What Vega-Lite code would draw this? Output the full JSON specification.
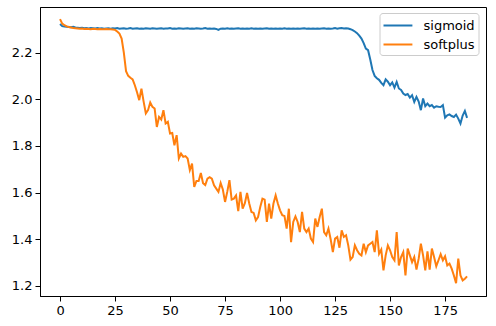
{
  "$schema": "https://vega.github.io/schema/vega-lite/v6.json",
  "width": 446,
  "height": 289,
  "autosize": {"type": "none"},
  "padding": {"left": 40, "top": 7, "right": 10, "bottom": 30},
  "background": "#ffffff",
  "config": {
    "view": {"stroke": "#000000", "strokeWidth": 1},
    "axis": {
      "domainColor": "#000000", "domainWidth": 1, "tickColor": "#000000", "tickWidth": 1, "tickSize": 5,
      "labelColor": "#000000", "labelFont": "DejaVu Sans", "labelFontSize": 13, "grid": false, "title": null
    },
    "legend": {"labelFont": "DejaVu Sans", "labelFontSize": 13, "labelColor": "#000000"}
  },
  "data": {"values": [
    {"epoch":0,"sigmoid":2.322,"softplus":2.343},
    {"epoch":1,"sigmoid":2.313,"softplus":2.324},
    {"epoch":2,"sigmoid":2.311,"softplus":2.317},
    {"epoch":3,"sigmoid":2.310,"softplus":2.312},
    {"epoch":4,"sigmoid":2.309,"softplus":2.309},
    {"epoch":5,"sigmoid":2.308,"softplus":2.307},
    {"epoch":6,"sigmoid":2.310,"softplus":2.305},
    {"epoch":7,"sigmoid":2.307,"softplus":2.304},
    {"epoch":8,"sigmoid":2.306,"softplus":2.303},
    {"epoch":9,"sigmoid":2.305,"softplus":2.302},
    {"epoch":10,"sigmoid":2.306,"softplus":2.303},
    {"epoch":11,"sigmoid":2.304,"softplus":2.301},
    {"epoch":12,"sigmoid":2.305,"softplus":2.302},
    {"epoch":13,"sigmoid":2.303,"softplus":2.301},
    {"epoch":14,"sigmoid":2.305,"softplus":2.300},
    {"epoch":15,"sigmoid":2.304,"softplus":2.302},
    {"epoch":16,"sigmoid":2.303,"softplus":2.301},
    {"epoch":17,"sigmoid":2.305,"softplus":2.300},
    {"epoch":18,"sigmoid":2.303,"softplus":2.301},
    {"epoch":19,"sigmoid":2.304,"softplus":2.300},
    {"epoch":20,"sigmoid":2.302,"softplus":2.300},
    {"epoch":21,"sigmoid":2.303,"softplus":2.301},
    {"epoch":22,"sigmoid":2.304,"softplus":2.300},
    {"epoch":23,"sigmoid":2.302,"softplus":2.300},
    {"epoch":24,"sigmoid":2.304,"softplus":2.299},
    {"epoch":25,"sigmoid":2.303,"softplus":2.297},
    {"epoch":26,"sigmoid":2.305,"softplus":2.290},
    {"epoch":27,"sigmoid":2.302,"softplus":2.281},
    {"epoch":28,"sigmoid":2.303,"softplus":2.260},
    {"epoch":29,"sigmoid":2.304,"softplus":2.200},
    {"epoch":30,"sigmoid":2.302,"softplus":2.120},
    {"epoch":31,"sigmoid":2.303,"softplus":2.100},
    {"epoch":32,"sigmoid":2.305,"softplus":2.092},
    {"epoch":33,"sigmoid":2.302,"softplus":2.085},
    {"epoch":34,"sigmoid":2.303,"softplus":2.060},
    {"epoch":35,"sigmoid":2.304,"softplus":2.030},
    {"epoch":36,"sigmoid":2.302,"softplus":1.996},
    {"epoch":37,"sigmoid":2.303,"softplus":2.045},
    {"epoch":38,"sigmoid":2.302,"softplus":1.990},
    {"epoch":39,"sigmoid":2.304,"softplus":1.939},
    {"epoch":40,"sigmoid":2.303,"softplus":1.953},
    {"epoch":41,"sigmoid":2.302,"softplus":1.986},
    {"epoch":42,"sigmoid":2.304,"softplus":1.967},
    {"epoch":43,"sigmoid":2.303,"softplus":1.960},
    {"epoch":44,"sigmoid":2.302,"softplus":1.881},
    {"epoch":45,"sigmoid":2.303,"softplus":1.924},
    {"epoch":46,"sigmoid":2.304,"softplus":1.913},
    {"epoch":47,"sigmoid":2.302,"softplus":1.953},
    {"epoch":48,"sigmoid":2.303,"softplus":1.896},
    {"epoch":49,"sigmoid":2.303,"softplus":1.903},
    {"epoch":50,"sigmoid":2.305,"softplus":1.853},
    {"epoch":51,"sigmoid":2.302,"softplus":1.855},
    {"epoch":52,"sigmoid":2.303,"softplus":1.803},
    {"epoch":53,"sigmoid":2.302,"softplus":1.846},
    {"epoch":54,"sigmoid":2.304,"softplus":1.746},
    {"epoch":55,"sigmoid":2.303,"softplus":1.767},
    {"epoch":56,"sigmoid":2.302,"softplus":1.753},
    {"epoch":57,"sigmoid":2.303,"softplus":1.756},
    {"epoch":58,"sigmoid":2.304,"softplus":1.746},
    {"epoch":59,"sigmoid":2.302,"softplus":1.696},
    {"epoch":60,"sigmoid":2.303,"softplus":1.724},
    {"epoch":61,"sigmoid":2.302,"softplus":1.624},
    {"epoch":62,"sigmoid":2.304,"softplus":1.650},
    {"epoch":63,"sigmoid":2.303,"softplus":1.650},
    {"epoch":64,"sigmoid":2.302,"softplus":1.684},
    {"epoch":65,"sigmoid":2.303,"softplus":1.640},
    {"epoch":66,"sigmoid":2.305,"softplus":1.632},
    {"epoch":67,"sigmoid":2.302,"softplus":1.660},
    {"epoch":68,"sigmoid":2.303,"softplus":1.666},
    {"epoch":69,"sigmoid":2.302,"softplus":1.660},
    {"epoch":70,"sigmoid":2.303,"softplus":1.631},
    {"epoch":71,"sigmoid":2.301,"softplus":1.617},
    {"epoch":72,"sigmoid":2.297,"softplus":1.603},
    {"epoch":73,"sigmoid":2.302,"softplus":1.641},
    {"epoch":74,"sigmoid":2.303,"softplus":1.613},
    {"epoch":75,"sigmoid":2.302,"softplus":1.560},
    {"epoch":76,"sigmoid":2.304,"softplus":1.603},
    {"epoch":77,"sigmoid":2.302,"softplus":1.653},
    {"epoch":78,"sigmoid":2.303,"softplus":1.570},
    {"epoch":79,"sigmoid":2.302,"softplus":1.574},
    {"epoch":80,"sigmoid":2.303,"softplus":1.588},
    {"epoch":81,"sigmoid":2.304,"softplus":1.521},
    {"epoch":82,"sigmoid":2.302,"softplus":1.603},
    {"epoch":83,"sigmoid":2.303,"softplus":1.531},
    {"epoch":84,"sigmoid":2.302,"softplus":1.555},
    {"epoch":85,"sigmoid":2.303,"softplus":1.598},
    {"epoch":86,"sigmoid":2.302,"softplus":1.553},
    {"epoch":87,"sigmoid":2.304,"softplus":1.517},
    {"epoch":88,"sigmoid":2.302,"softplus":1.513},
    {"epoch":89,"sigmoid":2.303,"softplus":1.481},
    {"epoch":90,"sigmoid":2.302,"softplus":1.495},
    {"epoch":91,"sigmoid":2.303,"softplus":1.538},
    {"epoch":92,"sigmoid":2.302,"softplus":1.574},
    {"epoch":93,"sigmoid":2.303,"softplus":1.570},
    {"epoch":94,"sigmoid":2.304,"softplus":1.474},
    {"epoch":95,"sigmoid":2.302,"softplus":1.553},
    {"epoch":96,"sigmoid":2.303,"softplus":1.489},
    {"epoch":97,"sigmoid":2.302,"softplus":1.553},
    {"epoch":98,"sigmoid":2.303,"softplus":1.588},
    {"epoch":99,"sigmoid":2.302,"softplus":1.553},
    {"epoch":100,"sigmoid":2.303,"softplus":1.524},
    {"epoch":101,"sigmoid":2.302,"softplus":1.503},
    {"epoch":102,"sigmoid":2.304,"softplus":1.500},
    {"epoch":103,"sigmoid":2.302,"softplus":1.446},
    {"epoch":104,"sigmoid":2.303,"softplus":1.531},
    {"epoch":105,"sigmoid":2.302,"softplus":1.388},
    {"epoch":106,"sigmoid":2.303,"softplus":1.474},
    {"epoch":107,"sigmoid":2.302,"softplus":1.498},
    {"epoch":108,"sigmoid":2.303,"softplus":1.474},
    {"epoch":109,"sigmoid":2.302,"softplus":1.431},
    {"epoch":110,"sigmoid":2.303,"softplus":1.517},
    {"epoch":111,"sigmoid":2.304,"softplus":1.446},
    {"epoch":112,"sigmoid":2.302,"softplus":1.431},
    {"epoch":113,"sigmoid":2.303,"softplus":1.446},
    {"epoch":114,"sigmoid":2.302,"softplus":1.403},
    {"epoch":115,"sigmoid":2.303,"softplus":1.388},
    {"epoch":116,"sigmoid":2.302,"softplus":1.489},
    {"epoch":117,"sigmoid":2.303,"softplus":1.453},
    {"epoch":118,"sigmoid":2.302,"softplus":1.495},
    {"epoch":119,"sigmoid":2.303,"softplus":1.531},
    {"epoch":120,"sigmoid":2.304,"softplus":1.431},
    {"epoch":121,"sigmoid":2.302,"softplus":1.417},
    {"epoch":122,"sigmoid":2.303,"softplus":1.446},
    {"epoch":123,"sigmoid":2.302,"softplus":1.400},
    {"epoch":124,"sigmoid":2.303,"softplus":1.345},
    {"epoch":125,"sigmoid":2.305,"softplus":1.403},
    {"epoch":126,"sigmoid":2.302,"softplus":1.410},
    {"epoch":127,"sigmoid":2.304,"softplus":1.364},
    {"epoch":128,"sigmoid":2.305,"softplus":1.438},
    {"epoch":129,"sigmoid":2.303,"softplus":1.410},
    {"epoch":130,"sigmoid":2.304,"softplus":1.417},
    {"epoch":131,"sigmoid":2.303,"softplus":1.374},
    {"epoch":132,"sigmoid":2.300,"softplus":1.313},
    {"epoch":133,"sigmoid":2.296,"softplus":1.324},
    {"epoch":134,"sigmoid":2.290,"softplus":1.374},
    {"epoch":135,"sigmoid":2.283,"softplus":1.353},
    {"epoch":136,"sigmoid":2.272,"softplus":1.338},
    {"epoch":137,"sigmoid":2.260,"softplus":1.331},
    {"epoch":138,"sigmoid":2.240,"softplus":1.381},
    {"epoch":139,"sigmoid":2.217,"softplus":1.345},
    {"epoch":140,"sigmoid":2.210,"softplus":1.374},
    {"epoch":141,"sigmoid":2.170,"softplus":1.381},
    {"epoch":142,"sigmoid":2.125,"softplus":1.388},
    {"epoch":143,"sigmoid":2.100,"softplus":1.345},
    {"epoch":144,"sigmoid":2.090,"softplus":1.438},
    {"epoch":145,"sigmoid":2.083,"softplus":1.338},
    {"epoch":146,"sigmoid":2.070,"softplus":1.356},
    {"epoch":147,"sigmoid":2.060,"softplus":1.267},
    {"epoch":148,"sigmoid":2.085,"softplus":1.331},
    {"epoch":149,"sigmoid":2.075,"softplus":1.374},
    {"epoch":150,"sigmoid":2.060,"softplus":1.353},
    {"epoch":151,"sigmoid":2.072,"softplus":1.324},
    {"epoch":152,"sigmoid":2.050,"softplus":1.310},
    {"epoch":153,"sigmoid":2.074,"softplus":1.431},
    {"epoch":154,"sigmoid":2.046,"softplus":1.288},
    {"epoch":155,"sigmoid":2.040,"softplus":1.324},
    {"epoch":156,"sigmoid":2.024,"softplus":1.345},
    {"epoch":157,"sigmoid":2.018,"softplus":1.245},
    {"epoch":158,"sigmoid":2.022,"softplus":1.360},
    {"epoch":159,"sigmoid":2.007,"softplus":1.331},
    {"epoch":160,"sigmoid":2.017,"softplus":1.302},
    {"epoch":161,"sigmoid":1.988,"softplus":1.324},
    {"epoch":162,"sigmoid":2.010,"softplus":1.270},
    {"epoch":163,"sigmoid":1.990,"softplus":1.317},
    {"epoch":164,"sigmoid":1.953,"softplus":1.381},
    {"epoch":165,"sigmoid":2.003,"softplus":1.331},
    {"epoch":166,"sigmoid":1.970,"softplus":1.267},
    {"epoch":167,"sigmoid":1.981,"softplus":1.348},
    {"epoch":168,"sigmoid":1.970,"softplus":1.270},
    {"epoch":169,"sigmoid":1.975,"softplus":1.360},
    {"epoch":170,"sigmoid":1.964,"softplus":1.324},
    {"epoch":171,"sigmoid":1.970,"softplus":1.284},
    {"epoch":172,"sigmoid":1.968,"softplus":1.310},
    {"epoch":173,"sigmoid":1.967,"softplus":1.336},
    {"epoch":174,"sigmoid":1.975,"softplus":1.310},
    {"epoch":175,"sigmoid":1.921,"softplus":1.327},
    {"epoch":176,"sigmoid":1.931,"softplus":1.288},
    {"epoch":177,"sigmoid":1.935,"softplus":1.296},
    {"epoch":178,"sigmoid":1.928,"softplus":1.274},
    {"epoch":179,"sigmoid":1.924,"softplus":1.245},
    {"epoch":180,"sigmoid":1.934,"softplus":1.212},
    {"epoch":181,"sigmoid":1.917,"softplus":1.317},
    {"epoch":182,"sigmoid":1.896,"softplus":1.245},
    {"epoch":183,"sigmoid":1.930,"softplus":1.224},
    {"epoch":184,"sigmoid":1.950,"softplus":1.231},
    {"epoch":185,"sigmoid":1.920,"softplus":1.241}
  ]},
  "transform": [{"fold": ["sigmoid", "softplus"], "as": ["activation", "loss"]}],
  "mark": {"type": "line", "strokeWidth": 2, "clip": true},
  "encoding": {
    "x": {
      "field": "epoch", "type": "quantitative",
      "scale": {"domain": [-9.1, 193.6], "nice": false, "zero": false},
      "axis": {"values": [0, 25, 50, 75, 100, 125, 150, 175], "labelPadding": 3, "labelFlush": false}
    },
    "y": {
      "field": "loss", "type": "quantitative",
      "scale": {"domain": [1.157, 2.395], "nice": false, "zero": false},
      "axis": {"values": [1.2, 1.4, 1.6, 1.8, 2.0, 2.2], "format": ".1f", "labelPadding": 3, "labelFlush": false}
    },
    "color": {
      "field": "activation", "type": "nominal",
      "scale": {"domain": ["sigmoid", "softplus"], "range": ["#1f77b4", "#ff7f0e"]},
      "legend": {
        "title": null, "orient": "none", "legendX": 339.5, "legendY": 6,
        "symbolType": "M-1,0H2.4", "symbolSize": 289, "symbolStrokeWidth": 2,
        "labelOffset": 22, "rowPadding": 2, "padding": 3,
        "strokeColor": "#cccccc", "fillColor": "#ffffff", "cornerRadius": 3
      }
    }
  }
}
